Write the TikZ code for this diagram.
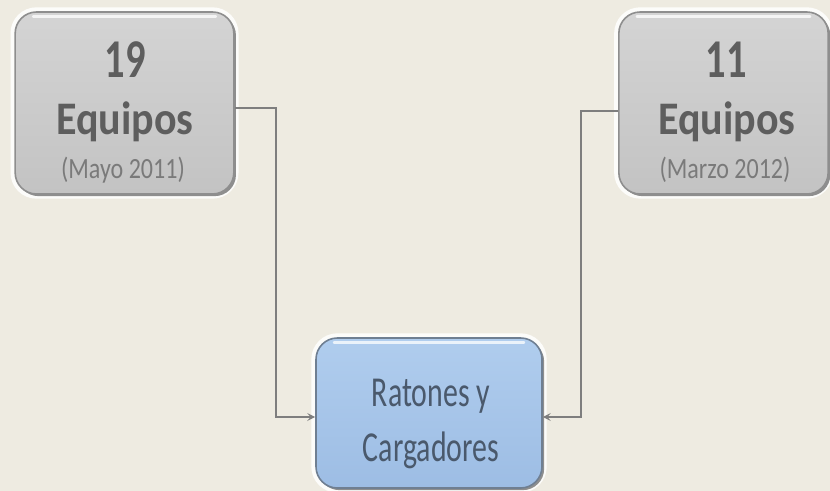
\documentclass[tikz,border=0pt]{standalone}
\usepackage{fontspec}
\setmainfont{Carlito}
\newfontfamily\boxfont[FakeStretch=0.9]{Carlito}
\newfontfamily\numfont[FakeStretch=0.74]{Carlito}
\newfontfamily\datefont[FakeStretch=0.82]{Carlito}
\newfontfamily\bluefont[FakeStretch=0.7]{Carlito}
\usetikzlibrary{calc,arrows.meta}
\definecolor{bg}{HTML}{EEEBE1}
\definecolor{grayhi}{HTML}{D4D4D4}
\definecolor{graylo}{HTML}{C3C3C3}
\definecolor{grayedge}{HTML}{8E8E8E}
\definecolor{bluehi}{HTML}{B0CDEE}
\definecolor{bluelo}{HTML}{9DBDE4}
\definecolor{blueedge}{HTML}{6F7F92}
\definecolor{bigtxt}{HTML}{5E5E5E}
\definecolor{datetxt}{HTML}{7A7A7A}
\definecolor{bluetxt}{HTML}{4A596C}
\definecolor{wire}{HTML}{7E7E7E}
\tikzset{
  panel/.style={rectangle, rounded corners=16pt, inner sep=0pt, line width=1.2pt,
    preaction={draw=white, line width=7pt, opacity=0.85},
    preaction={fill=black!55, opacity=0.8, transform canvas={xshift=1.6pt, yshift=-1.6pt}}},
  graypanel/.style={panel, draw=grayedge, top color=grayhi, bottom color=graylo},
  bluepanel/.style={panel, draw=blueedge, top color=bluehi, bottom color=bluelo},
  bignum/.style={anchor=base, inner sep=0pt, text=bigtxt, font=\numfont\bfseries\fontsize{41}{43}\selectfont},
  bigword/.style={anchor=base, inner sep=0pt, text=bigtxt, font=\boxfont\bfseries\fontsize{35}{37}\selectfont},
  datelbl/.style={anchor=base, inner sep=0pt, text=datetxt, font=\datefont\fontsize{22}{24}\selectfont},
  bluelbl/.style={anchor=base, inner sep=0pt, text=bluetxt, font=\bluefont\fontsize{32}{34}\selectfont},
  conn/.style={draw=wire, line width=1.4pt, -{Stealth[length=6pt,width=6pt,inset=2.5pt]}},
  gleam/.style={draw=white, line width=1.6pt, opacity=0.75, line cap=round}
}
\begin{document}
\begin{tikzpicture}[x=0.75pt, y=-0.75pt]
  \fill[bg] (0,0) rectangle (830,491);
  \useasboundingbox (0,0) rectangle (830,491);

  % boxes
  \node[graypanel, minimum width=164pt, minimum height=136.5pt] (L) at (124.5,103) {};
  \node[graypanel, minimum width=157pt, minimum height=136.5pt] (R) at (723.5,103) {};
  \node[bluepanel, minimum width=169.5pt, minimum height=112.5pt] (B) at (429,413) {};

  % top highlights
  \draw[gleam] ([xshift=14pt,yshift=-4pt]L.north west) -- ([xshift=-14pt,yshift=-4pt]L.north east);
  \draw[gleam] ([xshift=14pt,yshift=-4pt]R.north west) -- ([xshift=-14pt,yshift=-4pt]R.north east);
  \draw[gleam] ([xshift=14pt,yshift=-4pt]B.north west) -- ([xshift=-14pt,yshift=-4pt]B.north east);

  % texts
  \node[bignum] (l1) at (125,78) {19};
  \node[bigword] (l2) at (125,135) {Equipos};
  \node[datelbl] (l3) at (123,179) {(Mayo 2011)};
  \node[bignum] (r1) at (726,78) {11};
  \node[bigword] (r2) at (727,135) {Equipos};
  \node[datelbl] (r3) at (725,179) {(Marzo 2012)};
  \node[bluelbl] (b1) at (431,406) {Ratones y};
  \node[bluelbl] (b2) at (431,461) {Cargadores};

  % connectors
  \draw[conn] ([yshift=-3.5pt]L.east) -- ++(41,0) |- ([yshift=-3pt]B.west);
  \draw[conn] ([yshift=-6pt]R.east -| R.west) -- ++(-37,0) |- ([yshift=-3pt]B.east);
\end{tikzpicture}
\end{document}
